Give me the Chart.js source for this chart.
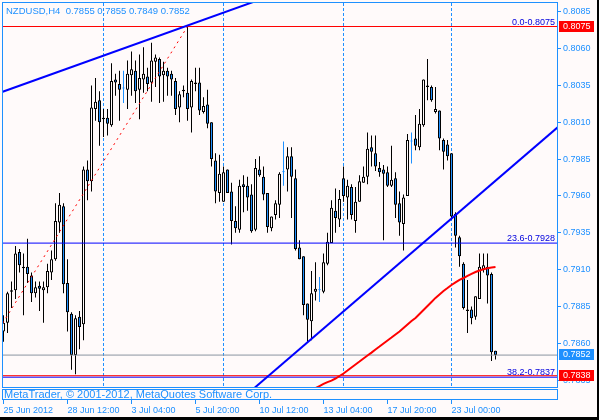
<!DOCTYPE html>
<html>
<head>
<meta charset="utf-8">
<script src="https://cdn.jsdelivr.net/npm/chart.js@4.4.1/dist/chart.umd.min.js"></script>
<style>
  html, body { margin: 0; padding: 0; background: #000; }
  canvas { display: block; }
</style>
</head>
<body>
<canvas id="chart" width="597" height="417"></canvas>
<script>
// NZDUSD H4 bars (bar 0 = 25 Jun 20:00)
const symbol = "NZDUSD,H4";
const opens = [
  0.7868, 0.7874, 0.7895, 0.7896, 0.7922, 0.7912, 0.7912, 0.7906, 0.7894, 0.7899,
  0.7896, 0.7898, 0.7908, 0.7917, 0.7942, 0.7953, 0.7901, 0.7880, 0.7852, 0.7878,
  0.7873, 0.7978, 0.7970, 0.8019, 0.8025, 0.8013, 0.8013, 0.8008, 0.8039, 0.8036,
  0.8033, 0.8032, 0.8042, 0.8045, 0.8032, 0.8039, 0.8041, 0.8037, 0.8051, 0.8053,
  0.8042, 0.8045, 0.8043, 0.8038, 0.8020, 0.8031, 0.8030, 0.8020, 0.8037, 0.8037,
  0.8017, 0.8022, 0.8010, 0.7984, 0.7962, 0.7956, 0.7978, 0.7963, 0.7943, 0.7937,
  0.7968, 0.7967, 0.7961, 0.7937, 0.7978, 0.7973, 0.7962, 0.7938, 0.7947, 0.7954,
  0.7976, 0.7978, 0.7987, 0.7972, 0.7925, 0.7919, 0.7887, 0.7875, 0.7895, 0.7896,
  0.7895, 0.7914, 0.7928, 0.7950, 0.7944, 0.7972, 0.7959, 0.7966, 0.7943, 0.7956,
  0.7969, 0.7973, 0.7993, 0.7989, 0.7979, 0.7978, 0.7976, 0.7967, 0.7972, 0.7955,
  0.7941, 0.7960, 0.7997, 0.7999, 0.7993, 0.8008, 0.8034, 0.8034, 0.8017, 0.8018,
  0.7998, 0.7995, 0.7989, 0.7948, 0.7932, 0.7914, 0.7883, 0.7883, 0.7878, 0.7890,
  0.7910, 0.7912, 0.7907, 0.7855
];
const highs = [
  0.7879, 0.7895, 0.7902, 0.7926, 0.7924, 0.7921, 0.7931, 0.7908, 0.7902, 0.7902,
  0.7902, 0.7914, 0.7923, 0.7955, 0.7962, 0.7955, 0.7917, 0.7881, 0.7879, 0.7882,
  0.7980, 0.7984, 0.8035, 0.8040, 0.8031, 0.8019, 0.8019, 0.8050, 0.8043, 0.8045,
  0.8045, 0.8052, 0.8058, 0.8052, 0.8056, 0.8061, 0.8047, 0.8064, 0.8056, 0.8054,
  0.8051, 0.8047, 0.8045, 0.8040, 0.8031, 0.8035, 0.8075, 0.8039, 0.8047, 0.8047,
  0.8027, 0.8032, 0.8010, 0.7989, 0.7988, 0.7980, 0.7978, 0.7969, 0.7953, 0.7971,
  0.7974, 0.7973, 0.7968, 0.7985, 0.7987, 0.7980, 0.7962, 0.7946, 0.7957, 0.7976,
  0.7997, 0.7993, 0.7993, 0.7978, 0.7930, 0.7919, 0.7887, 0.7909, 0.7915, 0.7905,
  0.7921, 0.7935, 0.7957, 0.7965, 0.7964, 0.7980, 0.7971, 0.7968, 0.7966, 0.7974,
  0.7980, 0.8003, 0.8001, 0.8001, 0.7983, 0.7981, 0.7980, 0.7994, 0.7976, 0.7963,
  0.7961, 0.8002, 0.8003, 0.8015, 0.8019, 0.8039, 0.8053, 0.8035, 0.8034, 0.8018,
  0.7999, 0.7998, 0.7989, 0.7949, 0.7933, 0.7915, 0.7903, 0.7885, 0.7892, 0.7921,
  0.7921, 0.7921, 0.7908, 0.7855
];
const lows = [
  0.7861, 0.7867, 0.7884, 0.7890, 0.7908, 0.7879, 0.7901, 0.7888, 0.7891, 0.7882,
  0.7874, 0.7894, 0.7903, 0.7916, 0.7935, 0.7894, 0.7868, 0.7842, 0.7839, 0.7856,
  0.7862, 0.7957, 0.7963, 0.8011, 0.7994, 0.8000, 0.8001, 0.8007, 0.8028, 0.8011,
  0.8023, 0.8019, 0.8028, 0.8023, 0.8012, 0.8030, 0.8031, 0.8024, 0.8034, 0.8023,
  0.8024, 0.8028, 0.8028, 0.8015, 0.8010, 0.8027, 0.8011, 0.8003, 0.8031, 0.8015,
  0.8016, 0.8006, 0.7980, 0.7955, 0.7956, 0.7956, 0.7962, 0.7927, 0.7935, 0.7935,
  0.7949, 0.7950, 0.7935, 0.7936, 0.7973, 0.7957, 0.7935, 0.7936, 0.7944, 0.7945,
  0.7967, 0.7963, 0.7945, 0.7923, 0.7917, 0.7879, 0.7861, 0.7862, 0.7889, 0.7888,
  0.7894, 0.7913, 0.7928, 0.7935, 0.7939, 0.7956, 0.7944, 0.7944, 0.7935, 0.7956,
  0.7969, 0.7968, 0.7980, 0.7977, 0.7973, 0.7930, 0.7966, 0.7966, 0.7945, 0.7933,
  0.7923, 0.7960, 0.7982, 0.7991, 0.7991, 0.8007, 0.8025, 0.8024, 0.8016, 0.7991,
  0.7978, 0.7984, 0.7944, 0.7925, 0.7912, 0.7883, 0.7867, 0.7873, 0.7876, 0.7890,
  0.7908, 0.7887, 0.7848, 0.7849
];
const closes = [
  0.7874, 0.7894, 0.7896, 0.7921, 0.7913, 0.7911, 0.7907, 0.7894, 0.7898, 0.7897,
  0.7898, 0.7909, 0.7917, 0.7943, 0.7954, 0.7900, 0.7881, 0.7852, 0.7877, 0.7871,
  0.7978, 0.7970, 0.8020, 0.8024, 0.8010, 0.8012, 0.8009, 0.8038, 0.8037, 0.8032,
  0.8033, 0.8043, 0.8046, 0.8031, 0.8040, 0.8043, 0.8036, 0.8052, 0.8054, 0.8041,
  0.8045, 0.8041, 0.8039, 0.8019, 0.8029, 0.8032, 0.8019, 0.8038, 0.8036, 0.8018,
  0.8021, 0.8009, 0.7985, 0.7963, 0.7975, 0.7976, 0.7962, 0.7943, 0.7938, 0.7967,
  0.7966, 0.7959, 0.7936, 0.7979, 0.7974, 0.7961, 0.7939, 0.7946, 0.7955, 0.7975,
  0.7976, 0.7987, 0.7973, 0.7924, 0.7917, 0.7886, 0.7876, 0.7894, 0.7897, 0.7896,
  0.7915, 0.7929, 0.7952, 0.7945, 0.7958, 0.7960, 0.7967, 0.7947, 0.7956, 0.7970,
  0.7973, 0.7992, 0.7990, 0.7980, 0.7976, 0.7975, 0.7967, 0.7971, 0.7954, 0.7942,
  0.7959, 0.7998, 0.7997, 0.7994, 0.8009, 0.8039, 0.8035, 0.8025, 0.8019, 0.7999,
  0.7990, 0.7987, 0.7946, 0.7933, 0.7919, 0.7884, 0.7882, 0.7877, 0.7892, 0.7912,
  0.7913, 0.7906, 0.7854, 0.7852
];

// moving average (red), starts at bar maStart
const maStart = 76;
const maValues = [
  0.78269, 0.78283, 0.78296, 0.78310, 0.78324, 0.78337, 0.78347, 0.78361, 0.78378, 0.78395,
  0.78415, 0.78436, 0.78456, 0.78476, 0.78497, 0.78517, 0.78537, 0.78558, 0.78578, 0.78599,
  0.78619, 0.78639, 0.78660, 0.78680, 0.78704, 0.78728, 0.78751, 0.78772, 0.78799, 0.78826,
  0.78853, 0.78880, 0.78908, 0.78931, 0.78955, 0.78975, 0.78996, 0.79013, 0.79030, 0.79043,
  0.79057, 0.79071, 0.79084, 0.79094, 0.79103, 0.79109, 0.79114, 0.79118
];

// drawn objects
const upperTrendX = [-2, 70];
const upperTrendY = [0.8029, 0.8099];
const lowerTrendX = [62, 140];
const lowerTrendY = [0.7828, 0.8010];
const fibBaseX = [-97, 46];
const fibBaseY = [0.7452, 0.8075];
const fibNames = ["0.0", "23.6", "38.2"];
const fibLevels = [0.8075, 0.7928, 0.7837];
const redLevels = [0.8075, 0.7838];
const bidPrice = 0.7852;

// axes
const priceTicks = [0.8085, 0.8060, 0.8035, 0.8010, 0.7985, 0.7960, 0.7935, 0.7910, 0.7885, 0.7860, 0.7835];
const timeTicks = [0, 16, 32, 48, 64, 80, 96, 112];
const timeLabels = ["25 Jun 2012", "28 Jun 12:00", "3 Jul 04:00", "5 Jul 20:00",
                    "10 Jul 12:00", "13 Jul 04:00", "17 Jul 20:00", "23 Jul 00:00"];
const weekStarts = [25, 55, 85, 112];

const xMin = -0.125, xMax = 138.375;
const yMin = 0.783034, yMax = 0.809095;

const DODGER = "#1e90ff";
const SNOW = "#fffafa";
const FONT = "'Liberation Sans', Arial, sans-serif";

const isFlat = i => opens[i] === closes[i];

function hLine(y, color, order) {
    return {
        type: "line",
        data: [{x: xMin, y: y}, {x: xMax, y: y}],
        borderColor: color, borderWidth: 1,
        pointRadius: 0, clip: 0, order: order
    };
}

function segment(xs, ys, color, width, order, dash) {
    return {
        type: "line",
        data: xs.map((x, k) => ({x: x, y: ys[k]})),
        borderColor: color, borderWidth: width, borderDash: dash || [],
        pointRadius: 0, clip: 0, order: order
    };
}

// keep the plot area fixed: no extra room for overhanging labels
function noPad(s) {
    s.paddingLeft = 0; s.paddingRight = 0;
    s.paddingTop = 0; s.paddingBottom = 0;
}

const mtPlugin = {
    id: "mt4look",
    beforeDraw(chart) {
        const ctx = chart.ctx;
        ctx.save();
        ctx.fillStyle = SNOW;
        ctx.fillRect(0, 0, chart.width, chart.height);
        ctx.restore();
    },
    beforeDatasetsDraw(chart) {
        // weekly separators, dashed
        const {ctx, chartArea: ca, scales: {x}} = chart;
        ctx.save();
        ctx.fillStyle = DODGER;
        weekStarts.forEach(w => {
            const px = Math.floor(x.getPixelForValue(w));
            for (let py = ca.top; py < ca.bottom; py += 5) {
                ctx.fillRect(px, py, 1, Math.min(3, ca.bottom - py));
            }
        });
        ctx.restore();
    },
    afterDatasetsDraw(chart) {
        const {ctx, chartArea: ca, scales: {y}} = chart;
        ctx.save();
        // fibo level captions
        ctx.font = "9px " + FONT;
        ctx.fillStyle = "#0000dd";
        ctx.textAlign = "right";
        ctx.textBaseline = "alphabetic";
        fibLevels.forEach((lv, k) => {
            ctx.fillText(fibNames[k] + "-" + lv.toFixed(4), ca.right - 2, y.getPixelForValue(lv) - 2);
        });
        // title with last bar
        const n = opens.length - 1;
        ctx.textAlign = "left";
        ctx.fillStyle = DODGER;
        ctx.font = "9.5px " + FONT;
        const title = symbol + "  " + [opens[n], highs[n], lows[n], closes[n]].map(v => v.toFixed(4)).join(" ");
        ctx.fillText(title, 6, 14);
        // frame
        ctx.strokeStyle = DODGER;
        ctx.lineWidth = 1;
        ctx.strokeRect(ca.left - 0.5, ca.top - 0.5, ca.right - ca.left + 1, ca.bottom - ca.top + 1);
        ctx.restore();
    },
    afterDraw(chart) {
        const {ctx, chartArea: ca, scales: {x, y}} = chart;
        ctx.save();
        // copyright strip
        ctx.strokeStyle = DODGER;
        ctx.lineWidth = 1;
        ctx.strokeRect(ca.left - 0.5, ca.bottom + 2.5, ca.right - ca.left + 1, 10);
        ctx.save();
        ctx.beginPath();
        ctx.rect(ca.left, ca.bottom + 3, ca.right - ca.left, 9);
        ctx.clip();
        ctx.fillStyle = DODGER;
        ctx.font = "11px " + FONT;
        ctx.textAlign = "left";
        ctx.fillText("MetaTrader, \u00a9 2001-2012, MetaQuotes Software Corp.", ca.left + 1, ca.bottom + 11);
        ctx.restore();
        // time tick marks
        ctx.beginPath();
        timeTicks.forEach(t => {
            const px = Math.floor(x.getPixelForValue(t)) + 0.5;
            ctx.moveTo(px, ca.bottom + 12);
            ctx.lineTo(px, ca.bottom + 17);
        });
        ctx.stroke();
        // price boxes on the right scale
        ctx.font = "9px " + FONT;
        ctx.textBaseline = "middle";
        const boxes = redLevels.map(p => [p, "#ff0000"]).concat([[bidPrice, DODGER]]);
        boxes.forEach(([p, col]) => {
            const py = Math.round(y.getPixelForValue(p));
            ctx.fillStyle = col;
            ctx.fillRect(ca.right + 2, py - 6, 35, 11);
            ctx.fillStyle = "#ffffff";
            ctx.fillText(p.toFixed(4), ca.right + 6, py);
        });
        ctx.restore();
    }
};

const ctx = document.getElementById("chart").getContext("2d");
new Chart(ctx, {
    type: "bar",
    data: {
        datasets: [
            segment(upperTrendX, upperTrendY, "#0000ff", 2, 1),
            segment(lowerTrendX, lowerTrendY, "#0000ff", 2, 1),
            {
                type: "line",
                data: maValues.map((v, k) => ({x: maStart + k, y: v})),
                borderColor: "#ff0000", borderWidth: 2,
                pointRadius: 0, clip: 0, order: 2
            },
            ...redLevels.map(p => hLine(p, "#ff0000", 3)),
            ...fibLevels.map(p => hLine(p, "#0000ff", 4)),
            hLine(bidPrice, "#8a94a0", 5),
            segment(fibBaseX, fibBaseY, "#ff0000", 1, 6, [2, 4]),
            {
                type: "bar",
                data: opens.map((o, i) => ({x: i, y: [o, closes[i]]})),
                backgroundColor: c => (c.dataIndex === undefined || closes[c.dataIndex] >= opens[c.dataIndex]) ? SNOW : DODGER,
                borderColor: c => (c.dataIndex !== undefined && isFlat(c.dataIndex)) ? DODGER : "#000000",
                borderWidth: 1,
                borderSkipped: false,
                minBarLength: 1,
                inflateAmount: 0,
                grouped: false,
                barPercentage: 1,
                categoryPercentage: 1,
                maxBarThickness: 3,
                order: 9
            },
            {
                type: "bar",
                data: opens.map((o, i) => ({x: i, y: [lows[i], highs[i]]})),
                backgroundColor: c => (c.dataIndex !== undefined && isFlat(c.dataIndex)) ? DODGER : "#000000",
                borderWidth: 0,
                inflateAmount: 0,
                grouped: false,
                barPercentage: 1,
                categoryPercentage: 1,
                maxBarThickness: 1,
                order: 10
            }
        ]
    },
    options: {
        responsive: false,
        animation: false,
        devicePixelRatio: 1,
        layout: { padding: { left: 3, top: 3, right: 0, bottom: 0 } },
        plugins: { legend: { display: false }, tooltip: { enabled: false } },
        events: [],
        scales: {
            x: {
                type: "linear",
                position: "bottom",
                min: xMin, max: xMax,
                offset: false,
                bounds: "data",
                border: { display: false },
                grid: { display: false, offset: false },
                afterBuildTicks: s => { s.ticks = timeTicks.map(v => ({value: v})); },
                afterFit: s => { s.height = 30; noPad(s); },
                ticks: {
                    autoSkip: false, maxRotation: 0, align: "start", padding: 10,
                    color: DODGER, font: { family: FONT, size: 9 },
                    callback: (v, i) => timeLabels[i]
                }
            },
            y: {
                type: "linear",
                position: "right",
                min: yMin, max: yMax,
                bounds: "data",
                border: { display: false },
                grid: { drawOnChartArea: false, drawTicks: true, tickLength: 4, color: DODGER, tickColor: DODGER },
                afterBuildTicks: s => { s.ticks = priceTicks.map(v => ({value: v})); },
                afterFit: s => { s.width = 40; noPad(s); },
                ticks: {
                    padding: 2, color: DODGER, font: { family: FONT, size: 9 },
                    callback: v => v.toFixed(4)
                }
            }
        }
    },
    plugins: [mtPlugin]
});
</script>
</body>
</html>
